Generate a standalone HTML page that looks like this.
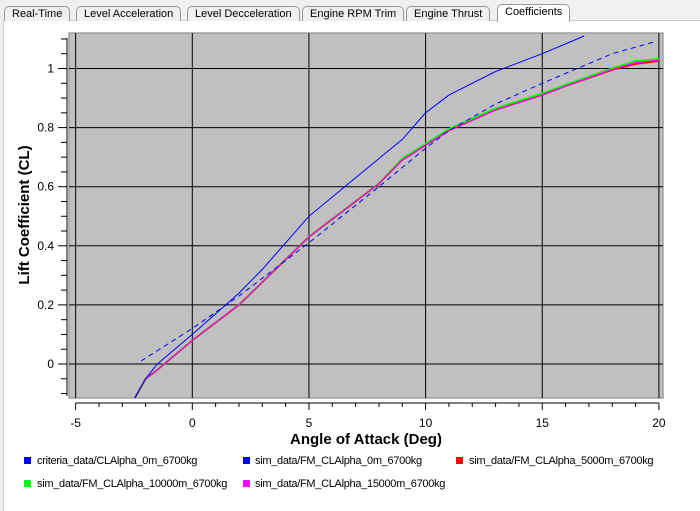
<!DOCTYPE html>
<html><head><meta charset="utf-8"><style>
body{margin:0;width:700px;height:510px;background:#f0f0f0;font-family:"Liberation Sans",sans-serif;overflow:hidden;position:relative}
.tab{position:absolute;top:6px;height:14px;border:1px solid #999;border-bottom:none;border-radius:5px 5px 0 0;background:#f0f0f0;font-size:11px;line-height:14px;padding:0 7px;color:#000}
.panel{position:absolute;left:3px;top:20px;width:700px;height:490px;background:#fff;border-top:1px solid #ccc;border-left:1px solid #ccc}
.leg{position:absolute;font-size:11px;color:#000;letter-spacing:-0.3px}
.sq{position:absolute;width:7px;height:7px}
</style></head><body>
<div class="panel"></div>
<div class="tab" style="left:4px">Real-Time</div>
<div class="tab" style="left:76px">Level Acceleration</div>
<div class="tab" style="left:187px">Level Decceleration</div>
<div class="tab" style="left:302px">Engine RPM Trim</div>
<div class="tab" style="left:406px">Engine Thrust</div>
<div class="tab" style="left:497px;top:4px;height:17px;background:#fff">Coefficients</div>
<svg id="chart" width="700" height="510" style="position:absolute;left:0;top:0"></svg>
<div class="sq" style="left:24px;top:457px;background:#0000ff"></div>
<div class="leg" style="left:37px;top:455px">criteria_data/CLAlpha_0m_6700kg</div>
<div class="sq" style="left:243px;top:457px;background:#0000ff"></div>
<div class="leg" style="left:255px;top:455px">sim_data/FM_CLAlpha_0m_6700kg</div>
<div class="sq" style="left:456px;top:457px;background:#ff0000"></div>
<div class="leg" style="left:469px;top:455px">sim_data/FM_CLAlpha_5000m_6700kg</div>
<div class="sq" style="left:24px;top:480px;background:#00ff00"></div>
<div class="leg" style="left:37px;top:478px">sim_data/FM_CLAlpha_10000m_6700kg</div>
<div class="sq" style="left:243px;top:480px;background:#ff00ff"></div>
<div class="leg" style="left:255px;top:478px">sim_data/FM_CLAlpha_15000m_6700kg</div>
<script>
const xTicks=[-5,0,5,10,15,20];
const yTicks=[0,0.2,0.4,0.6,0.8,1];
const criteriaX=[-2.5,-2,-1.5,0,2,3,5,7,9,10,11,13,15,16.8];
const criteriaY=[-0.12,-0.05,0,0.1,0.24,0.32,0.5,0.63,0.76,0.85,0.91,0.99,1.05,1.11];
const sim0X=[-2.2,0,2,5,8,10,11,13,15,18,19.8];
const sim0Y=[0.01,0.12,0.23,0.41,0.6,0.73,0.79,0.88,0.95,1.05,1.09];
const simAltX=[-2.5,-2,-1.5,0,2,5,8,9,10,11,13,15,16,18,19,20];
const sim5000Y=[-0.12,-0.05,-0.02,0.08,0.2,0.43,0.61,0.69,0.74,0.79,0.86,0.91,0.94,0.995,1.015,1.025];
const sim10000Y=[-0.12,-0.05,-0.02,0.08,0.2,0.43,0.61,0.695,0.745,0.795,0.865,0.915,0.945,1.0,1.025,1.032];
const sim15000Y=[-0.12,-0.05,-0.02,0.08,0.2,0.43,0.61,0.69,0.74,0.79,0.86,0.91,0.94,0.997,1.02,1.028];
const X0=69,X1=663,Y0=33,Y1=398;
const sx=v=>192.3+v*23.33;
const sy=v=>364-v*295.5;
const svg=document.getElementById('chart');
const NS='http://www.w3.org/2000/svg';
function mk(t,a){const e=document.createElementNS(NS,t);for(const k in a)e.setAttribute(k,a[k]);svg.appendChild(e);return e;}
let e=mk('defs',{});e.innerHTML='<clipPath id="cp"><rect x="'+X0+'" y="'+Y0+'" width="'+(X1-X0)+'" height="'+(Y1-Y0)+'"/></clipPath>';
e=mk('rect',{x:X0,y:Y0,width:X1-X0,height:Y1-Y0,fill:'#c0c0c0',stroke:'#a0a0a0','stroke-width':1.5});

xTicks.forEach(v=>{const g=mk('line',{x1:sx(v),x2:sx(v),y1:Y0,y2:Y1,stroke:'#000','stroke-width':1});});
yTicks.forEach(v=>{const g=mk('line',{x1:X0,x2:X1,y1:sy(v),y2:sy(v),stroke:'#000','stroke-width':1});});
e=mk('line',{x1:sx(-5),x2:sx(20),y1:403,y2:403,stroke:'#000'});
for(let v=-5;v<=20;v++){const t=mk('line',{x1:sx(v),x2:sx(v),y1:403,y2:v%5===0?410:407,stroke:'#000'});}
xTicks.forEach(v=>{const t=mk('text',{x:sx(v),y:427,'text-anchor':'middle','font-size':12});t.textContent=v;});
e=mk('line',{x1:67,x2:67,y1:38,y2:396,stroke:'#000'});
for(let i=-2;i<=22;i++){const v=i*0.05;const y=sy(v);if(y<38||y>396)continue;const t=mk('line',{x1:i%4===0?58:61,x2:67,y1:y,y2:y,stroke:'#000'});}
yTicks.forEach(v=>{const t=mk('text',{x:54,y:sy(v)+4,'text-anchor':'end','font-size':12});t.textContent=String(+v.toFixed(1));});
e=mk('text',{x:366,y:444,'text-anchor':'middle','font-size':15,'font-weight':'bold'});e.textContent='Angle of Attack (Deg)';
e=mk('text',{x:0,y:0,'text-anchor':'middle','font-size':15,'font-weight':'bold',transform:'translate(29,215) rotate(-90)'});e.textContent='Lift Coefficient (CL)';
function line(xs,ys,color,w,dash,name){const p=xs.map((x,i)=>sx(x).toFixed(1)+','+sy(ys[i]).toFixed(1)).join(' ');const l=mk('polyline',{points:p,fill:'none',stroke:color,'stroke-width':w,'clip-path':'url(#cp)'});if(dash)l.setAttribute('stroke-dasharray',dash);}
line(simAltX,sim10000Y,'#00ff00',2,null,'series-sim-10000m');
line(simAltX,sim5000Y,'#ff0000',1.5,null,'series-sim-5000m');
line(simAltX,sim15000Y,'#ff00ff',1.2,null,'series-sim-15000m');
line(criteriaX,criteriaY,'#0000ff',1,null,'series-criteria');
line(sim0X,sim0Y,'#0000ff',1,'5,4','series-sim-0m');
</script>
</body></html>
